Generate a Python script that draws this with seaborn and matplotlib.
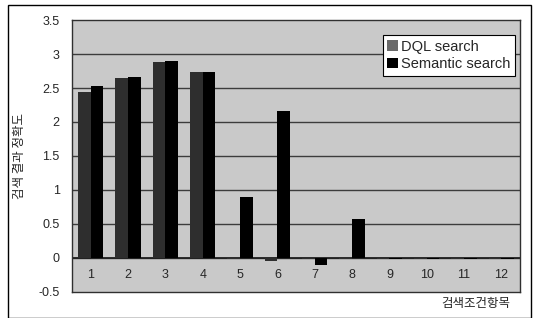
import numpy as np
import pandas as pd
import seaborn as sns
import matplotlib.pyplot as plt
from matplotlib.patches import Rectangle

# chart data
items = ['1', '2', '3', '4', '5', '6', '7', '8', '9', '10', '11', '12']
dql_search = [2.44, 2.65, 2.88, 2.73, -0.02, -0.04, -0.02, -0.02, -0.02, -0.02, -0.02, -0.02]
semantic_search = [2.53, 2.66, 2.89, 2.74, 0.90, 2.16, -0.10, 0.57, -0.02, -0.02, -0.02, -0.02]
series_names = ['DQL search', 'Semantic search']
y_ticks = [-0.5, 0, 0.5, 1, 1.5, 2, 2.5, 3, 3.5]

df = pd.DataFrame({
    'item': items * 2,
    'value': dql_search + semantic_search,
    'method': [series_names[0]] * len(items) + [series_names[1]] * len(items),
})

sns.set_style('white')
plt.rcParams['font.family'] = ['Liberation Sans', 'Noto Sans CJK KR', 'DejaVu Sans']

fig = plt.figure(figsize=(5.34, 3.18), dpi=100)
ax = fig.add_axes([0.135, 0.082, 0.839, 0.855])
ax.set_facecolor('#c9c9c9')

# horizontal grid lines
for t in y_ticks[1:-1]:
    ax.axhline(t, color='#3c3c3c', lw=1.0, zorder=0.5)
ax.axhline(0, color='#202020', lw=1.3, zorder=0.6)

sns.barplot(data=df, x='item', y='value', hue='method', order=items,
            hue_order=series_names, palette=['#2e2e2e', '#000000'],
            saturation=1, width=0.68, linewidth=0, ax=ax, zorder=2)

ax.set_ylim(-0.5, 3.5)
ax.set_yticks(y_ticks)
ax.set_yticklabels(['-0.5', '0', '0.5', '1', '1.5', '2', '2.5', '3', '3.5'], fontsize=9)
ax.tick_params(axis='y', length=0, pad=9)
ax.set_xticks([])
ax.set_xlabel('')
ax.set_ylabel('검색 결과 정확도', fontsize=9, family=['Noto Sans CJK KR'], labelpad=9)

# category labels drawn just below the zero axis
for i, lab in enumerate(items):
    ax.text(i, -0.25, lab, ha='center', va='center', fontsize=9)

for s in ax.spines.values():
    s.set_color('#303030')
    s.set_linewidth(1.0)

leg = ax.legend(loc='upper right', bbox_to_anchor=(0.995, 0.955), fontsize=10.5,
                frameon=True, fancybox=False, edgecolor='black', framealpha=1,
                handlelength=0.7, handleheight=0.7, handletextpad=0.25,
                borderpad=0.3, labelspacing=0.25, borderaxespad=0.2)
leg.get_frame().set_linewidth(0.8)
leg.legend_handles[0].set_facecolor('#6a6a6a')

fig.text(0.955, 0.045, '검색조건항목', ha='right', va='center', fontsize=9,
         family=['Noto Sans CJK KR'])

# outer border of the chart area
fig.patches.append(Rectangle((0.015, 0.0), 0.98, 0.985, transform=fig.transFigure,
                             fill=False, edgecolor='black', lw=1.0))

fig.savefig('out.png', dpi=100)
